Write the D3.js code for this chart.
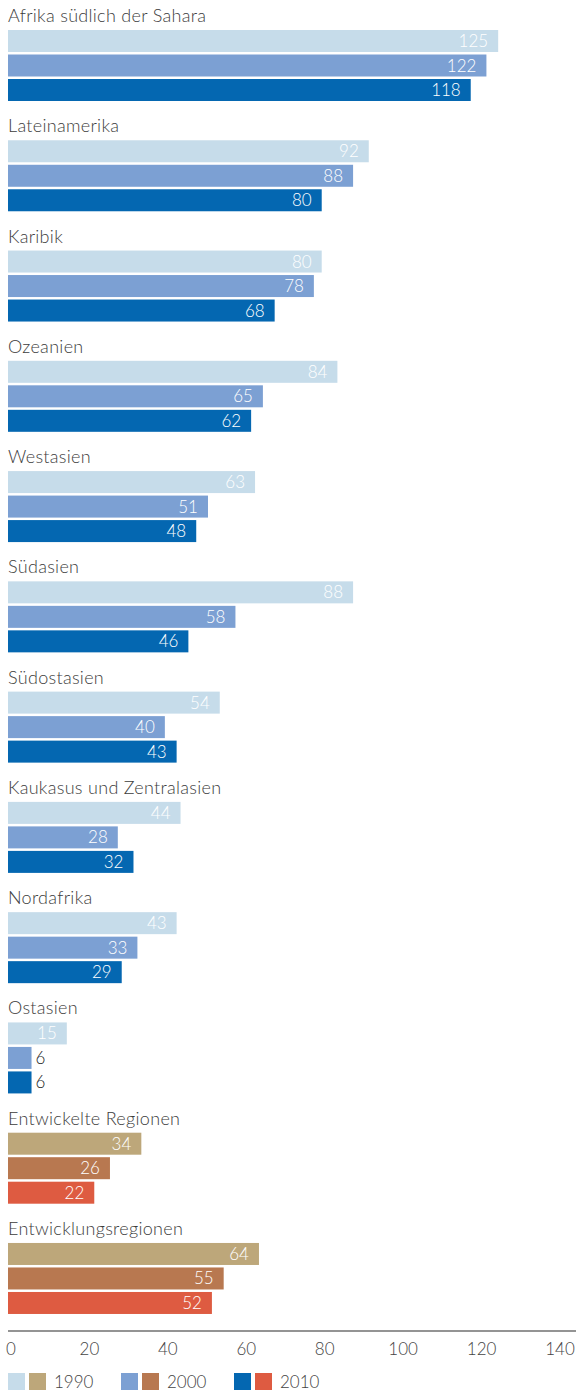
<!DOCTYPE html>
<html lang="de">
<head>
<meta charset="utf-8">
<script src="https://cdn.jsdelivr.net/npm/d3@7"></script>
<style>
  html, body { margin: 0; padding: 0; background: #ffffff; }
  svg { display: block; }
  text { font-family: "Lato", "Open Sans", sans-serif; font-weight: 300; }
</style>
</head>
<body>
<svg id="chart" width="576" height="1392"></svg>
<script>
// Regions, top to bottom
const categories = [
  "Afrika südlich der Sahara",
  "Lateinamerika",
  "Karibik",
  "Ozeanien",
  "Westasien",
  "Südasien",
  "Südostasien",
  "Kaukasus und Zentralasien",
  "Nordafrika",
  "Ostasien",
  "Entwickelte Regionen",
  "Entwicklungsregionen"
];

const years = ["1990", "2000", "2010"];

// Values per year
const values1990 = [125, 92, 80, 84, 63, 88, 54, 44, 43, 15, 34, 64];
const values2000 = [122, 88, 78, 65, 51, 58, 40, 28, 33, 6, 26, 55];
const values2010 = [118, 80, 68, 62, 48, 46, 43, 32, 29, 6, 22, 52];

// Which palette each region uses: regional groups vs. the two aggregates
const paletteOf = ["blue", "blue", "blue", "blue", "blue", "blue", "blue", "blue", "blue", "blue", "warm", "warm"];

const axisTicks = [0, 20, 40, 60, 80, 100, 120, 140];

const palettes = {
  blue: ["#c6dcea", "#7ca0d3", "#0467b1"],
  warm: ["#bda77a", "#b87850", "#de5b41"]
};

const rows = categories.map((c, i) => ({
  name: c,
  palette: paletteOf[i],
  bars: [values1990[i], values2000[i], values2010[i]].map((v, j) => ({ year: years[j], value: v, idx: j }))
}));

const svg = d3.select("#chart");

const x = d3.scaleLinear().domain([0, 140]).range([8, 557]);

const groupStep = 110.27;
const groupY = d3.scaleBand()
  .domain(categories)
  .range([30, 30 + groupStep * categories.length])
  .paddingInner(0).paddingOuter(0);

const barY = d3.scaleBand()
  .domain(years)
  .range([0, 71])
  .paddingInner(0.102);

const groups = svg.selectAll("g.region")
  .data(rows)
  .join("g")
  .attr("class", "region")
  .attr("transform", d => `translate(0,${groupY(d.name)})`);

// Region title
groups.append("text")
  .attr("x", 8)
  .attr("y", -8)
  .attr("fill", "#3c3c3c")
  .attr("font-size", 18)
  .attr("letter-spacing", 0.3)
  .text(d => d.name);

// Bars
groups.selectAll("rect")
  .data(d => d.bars.map(b => ({ ...b, palette: d.palette })))
  .join("rect")
  .attr("x", x(0))
  .attr("y", d => barY(d.year))
  .attr("width", d => x(d.value) - x(0))
  .attr("height", barY.bandwidth())
  .attr("fill", d => palettes[d.palette][d.idx]);

// Value labels: inside the bar end, or just outside for very short bars
groups.selectAll("text.val")
  .data(d => d.bars)
  .join("text")
  .attr("class", "val")
  .attr("font-size", 17)
  .attr("y", d => barY(d.year) + barY.bandwidth() / 2 + 6)
  .each(function(d) {
    const inside = x(d.value) - x(0) > 40;
    d3.select(this)
      .attr("x", inside ? x(d.value) - 10 : x(d.value) + 4)
      .attr("text-anchor", inside ? "end" : "start")
      .attr("fill", inside ? "#ffffff" : "#1a1a1a");
  })
  .text(d => d.value);

// Horizontal axis
const axisY = 1331;
svg.append("line")
  .attr("x1", 8).attr("x2", 576)
  .attr("y1", axisY).attr("y2", axisY)
  .attr("stroke", "#707070")
  .attr("stroke-width", 1.5);

svg.append("g")
  .selectAll("text")
  .data(axisTicks)
  .join("text")
  .attr("x", d => x(d) + 3)
  .attr("y", axisY + 24)
  .attr("text-anchor", "middle")
  .attr("fill", "#444444")
  .attr("font-size", 17)
  .text(d => d);

// Legend: blue and warm swatch side by side for each year
const legend = svg.append("g")
  .selectAll("g")
  .data(years)
  .join("g")
  .attr("transform", (d, i) => `translate(${8 + i * 113},1373)`);

legend.append("rect")
  .attr("x", 0).attr("y", 0).attr("width", 17).attr("height", 17)
  .attr("fill", (d, i) => palettes.blue[i]);
legend.append("rect")
  .attr("x", 21).attr("y", 0).attr("width", 17).attr("height", 17)
  .attr("fill", (d, i) => palettes.warm[i]);
legend.append("text")
  .attr("x", 46).attr("y", 15)
  .attr("fill", "#444444")
  .attr("font-size", 17)
  .text(d => d);
</script>
</body>
</html>
